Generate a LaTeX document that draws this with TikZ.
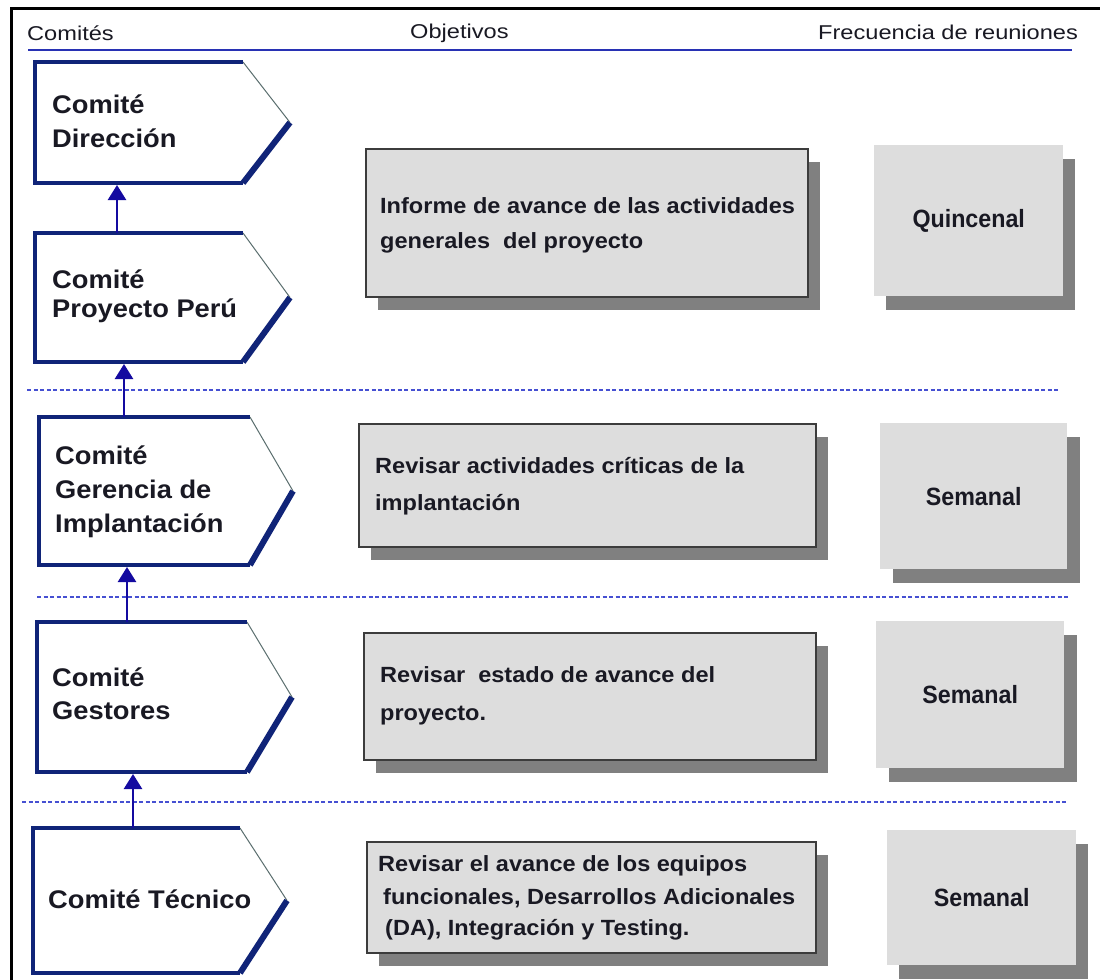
\documentclass[tikz,border=0pt]{standalone}
\usepackage{fontspec}
\setmainfont{Liberation Sans}
\newfontfamily\pentf[FakeStretch=1.07]{Liberation Sans}
\newfontfamily\hdrf[FakeStretch=1.18]{Liberation Sans}
\newfontfamily\freqf[FakeStretch=0.93]{Liberation Sans}
\usetikzlibrary{arrows.meta}
\definecolor{navy}{RGB}{16,36,120}
\definecolor{arrowblue}{RGB}{20,10,160}
\definecolor{headerblue}{RGB}{40,50,180}
\definecolor{dashblue}{RGB}{70,80,210}
\definecolor{boxfill}{RGB}{221,221,221}
\definecolor{shadegray}{RGB}{128,128,128}
\definecolor{boxedge}{RGB}{60,60,60}
\definecolor{ink}{RGB}{25,25,35}
\definecolor{thinedge}{RGB}{90,110,110}
\tikzset{
  frameline/.style={draw=black, line width=3bp},
  hline/.style={draw=headerblue, line width=2bp},
  sep/.style={draw=dashblue, line width=1.2bp, dash pattern=on 4bp off 2.5bp},
  pentthin/.style={draw=thinedge, line width=1bp},
  pentedge/.style={draw=navy, line width=3.5bp, line join=miter},
  pentcut/.style={draw=navy, line width=6bp},
  uparrow/.style={draw=arrowblue, line width=2.5bp, -{Triangle[width=18bp,length=15bp]}},
  boxshade/.style={fill=shadegray, inner sep=0pt, anchor=north west},
  objbox/.style={draw=boxedge, fill=boxfill, line width=1.5bp, inner sep=0pt, anchor=north west},
  freqbox/.style={fill=boxfill, inner sep=0pt, anchor=north west, text=ink,
    font=\freqf\bfseries\fontsize{25bp}{30bp}\selectfont},
  pentlbl/.style={anchor=base west, inner sep=0pt, text=ink,
    font=\pentf\bfseries\fontsize{25.5bp}{30bp}\selectfont},
  objlbl/.style={anchor=base west, inner sep=0pt, text=ink,
    font=\pentf\bfseries\fontsize{22bp}{26bp}\selectfont},
  hdrlbl/.style={anchor=base west, inner sep=0pt, text=ink,
    font=\hdrf\fontsize{20bp}{24bp}\selectfont}
}
% name, x0, y0, x1, xtip, y1
\newcommand\committeebox[6]{%
  \coordinate (#1-nw) at (#2,#3);
  \coordinate (#1-ne) at (#4,#3);
  \coordinate (#1-tip) at (#5,{(#3+#6)/2});
  \coordinate (#1-se) at (#4,#6);
  \coordinate (#1-sw) at (#2,#6);
  \fill[white] (#1-nw) -- (#1-ne) -- (#1-tip) -- (#1-se) -- (#1-sw) -- cycle;
  \draw[pentthin] (#1-ne) -- (#1-tip);
  \draw[pentedge] (#1-ne) -- (#1-nw) -- (#1-sw) -- (#1-se);
  \draw[pentcut] (#1-se) -- (#1-tip);
}
\begin{document}
\begin{tikzpicture}[x=1bp,y=-1bp]
\useasboundingbox (0,0) rectangle (1100,980);
\fill[white] (0,0) rectangle (1100,980);
% frame
\coordinate (f1) at (1100,8);
\coordinate (f2) at (11,8);
\coordinate (f3) at (11,980);
\draw[frameline] (f1) -- (f2) -- (f3);
% header
\node[hdrlbl] (hc) at (27,40) {Comités};
\node[hdrlbl] (ho) at (410,38) {Objetivos};
\node[hdrlbl] (hf) at (818,39) {Frecuencia de reuniones};
\coordinate (h1) at (28,50);
\coordinate (h2) at (1072,50);
\draw[hline] (h1) -- (h2);
% separators
\coordinate (s1a) at (27,390);  \coordinate (s1b) at (1058,390);
\coordinate (s2a) at (37,597);  \coordinate (s2b) at (1070,597);
\coordinate (s3a) at (22,802);  \coordinate (s3b) at (1068,802);
\draw[sep] (s1a) -- (s1b);
\draw[sep] (s2a) -- (s2b);
\draw[sep] (s3a) -- (s3b);
% objective boxes
\node[boxshade, minimum width=442bp, minimum height=148bp] (oa-sh) at (378,162) {};
\node[objbox, minimum width=442bp, minimum height=148bp] (oa) at (365,148) {};
\node[boxshade, minimum width=457bp, minimum height=123bp] (ob-sh) at (371,437) {};
\node[objbox, minimum width=457bp, minimum height=123bp] (ob) at (358,423) {};
\node[boxshade, minimum width=452bp, minimum height=127bp] (oc-sh) at (376,646) {};
\node[objbox, minimum width=452bp, minimum height=127bp] (oc) at (363,632) {};
\node[boxshade, minimum width=449bp, minimum height=111bp] (od-sh) at (379,855) {};
\node[objbox, minimum width=449bp, minimum height=111bp] (od) at (366,841) {};
% frequency boxes
\node[boxshade, minimum width=189bp, minimum height=151bp] (fa-sh) at (886,159) {};
\node[freqbox, minimum width=189bp, minimum height=151bp] (fa) at (874,145) {Quincenal};
\node[boxshade, minimum width=187bp, minimum height=146bp] (fb-sh) at (893,437) {};
\node[freqbox, minimum width=187bp, minimum height=146bp] (fb) at (880,423) {Semanal};
\node[boxshade, minimum width=188bp, minimum height=147bp] (fc-sh) at (889,635) {};
\node[freqbox, minimum width=188bp, minimum height=147bp] (fc) at (876,621) {Semanal};
\node[boxshade, minimum width=189bp, minimum height=135bp] (fd-sh) at (899,844) {};
\node[freqbox, minimum width=189bp, minimum height=135bp] (fd) at (887,830) {Semanal};
% objective texts
\node[objlbl] (oa1) at (380,213) {Informe de avance de las actividades};
\node[objlbl] (oa2) at (380,248) {generales\ \ del proyecto};
\node[objlbl] (ob1) at (375,473) {Revisar actividades críticas de la};
\node[objlbl] (ob2) at (375,510) {implantación};
\node[objlbl] (oc1) at (380,682) {Revisar\ \ estado de avance del};
\node[objlbl] (oc2) at (380,720) {proyecto.};
\node[objlbl] (od1) at (378,871) {Revisar el avance de los equipos};
\node[objlbl] (od2) at (383,904) {funcionales, Desarrollos Adicionales};
\node[objlbl] (od3) at (385,935) {(DA), Integración y Testing.};
% committees
\committeebox{p1}{35}{62}{243}{290}{183}
\committeebox{p2}{35}{233}{243}{290}{362}
\committeebox{p3}{39}{417}{250}{293}{565}
\committeebox{p4}{37}{622}{247}{292}{772}
\committeebox{p5}{33}{828}{240}{287}{973}
\node[pentlbl] (p1a) at (52,113) {Comité};
\node[pentlbl] (p1b) at (52,147) {Dirección};
\node[pentlbl] (p2a) at (52,288) {Comité};
\node[pentlbl] (p2b) at (52,317) {Proyecto Perú};
\node[pentlbl] (p3a) at (55,464) {Comité};
\node[pentlbl] (p3b) at (55,498) {Gerencia de};
\node[pentlbl] (p3c) at (55,532) {Implantación};
\node[pentlbl] (p4a) at (52,686) {Comité};
\node[pentlbl] (p4b) at (52,719) {Gestores};
\node[pentlbl] (p5a) at (48,908) {Comité Técnico};
% arrows
\coordinate (a1s) at (117,233); \coordinate (a1e) at (117,185);
\coordinate (a2s) at (124,417); \coordinate (a2e) at (124,364);
\coordinate (a3s) at (127,622); \coordinate (a3e) at (127,567);
\coordinate (a4s) at (133,828); \coordinate (a4e) at (133,774);
\draw[uparrow] (a1s) -- (a1e);
\draw[uparrow] (a2s) -- (a2e);
\draw[uparrow] (a3s) -- (a3e);
\draw[uparrow] (a4s) -- (a4e);
\end{tikzpicture}
\end{document}
